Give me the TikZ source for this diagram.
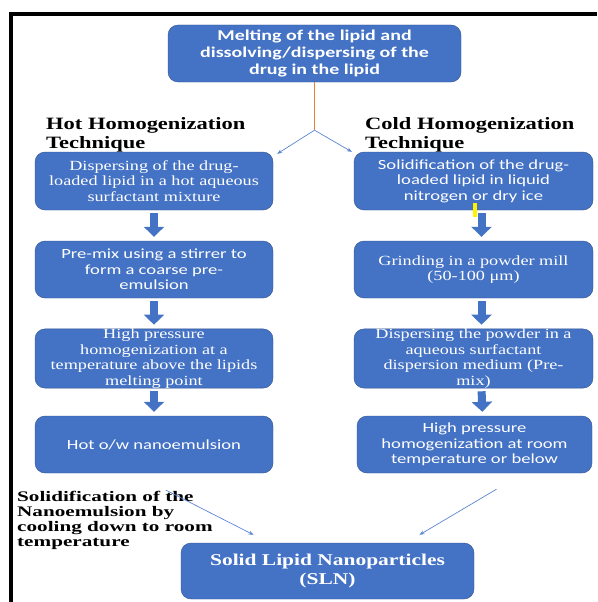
\documentclass[tikz,border=0pt]{standalone}
\usepackage{fontspec}
\usepackage{tikz}
\usetikzlibrary{arrows.meta,calc}
\newfontfamily\boxserif[FakeStretch=1.3]{Liberation Serif}
\newfontfamily\boxsans[FakeStretch=1.33]{Carlito}
\newfontfamily\notefont[FakeStretch=1.45]{Liberation Serif}
\definecolor{stepblue}{HTML}{4472C4}
\definecolor{stepedge}{HTML}{2F528F}
\definecolor{linkblue}{HTML}{5B86CF}
\definecolor{stemorange}{HTML}{ED7D31}

\begin{document}
\begin{tikzpicture}[x=1pt,y=-1pt,
  stepbox/.style={draw=stepedge,fill=stepblue,rounded corners=10pt,text=white,
    align=center,minimum width=238pt,minimum height=57pt,inner xsep=2pt,inner ysep=0pt},
  serifbox/.style={stepbox,font=\boxserif\fontsize{14}{15.5}\selectfont},
  sansbox/.style={stepbox,font=\boxsans\fontsize{14}{15.5}\selectfont},
  heading/.style={anchor=north west,align=left,inner sep=0pt,
    font=\boxserif\bfseries\fontsize{17.3}{19}\selectfont},
  note/.style={anchor=north west,align=left,inner sep=0pt,
    font=\notefont\bfseries\fontsize{14.6}{15}\selectfont},
  blk/.style={-{Triangle[width=20pt,length=10pt]},line width=8pt,draw=stepblue,
    shorten <=3pt,shorten >=4pt},
  link/.style={-{Stealth[length=5pt,width=4pt]},draw=linkblue,line width=0.7pt}
]
\useasboundingbox (0,0) rectangle (597,602);
% frame
\draw[line width=4pt] (9,14) -- (597,14);
\draw[line width=4pt] (11,12) -- (11,602);

\node[sansbox,font=\boxsans\bfseries\fontsize{15}{17}\selectfont,minimum width=293pt]
  (top) at (314.5,53.5) {Melting of the lipid and\\dissolving/dispersing of the\\drug in the lipid};

\node[heading] (hothead) at (46,117) {Hot Homogenization\\Technique};
\node[heading] (coldhead) at (365,117) {Cold Homogenization\\Technique};

% hot column
\node[serifbox,minimum height=58pt] (l1) at (154,181)
  {Dispersing of the drug-\\loaded lipid in a hot aqueous\\surfactant mixture};
\node[sansbox] (l2) at (154,269.5) {Pre-mix using a stirrer to\\form a coarse pre-\\emulsion};
\node[serifbox,minimum height=59pt] (l3) at (154,358.5)
  {High pressure\\homogenization at a\\temperature above the lipids\\melting point};
\node[sansbox] (l4) at (154,444.5) {Hot o/w nanoemulsion};

% cold column
\node[sansbox,minimum width=239pt,minimum height=58pt] (r1) at (473.5,181)
  {Solidification of the drug-\\loaded lipid in liquid\\nitrogen or dry ice};
\node[serifbox,minimum width=239pt] (r2) at (473.5,269.5) {Grinding in a powder mill\\(50-100 μm)};
\node[serifbox,minimum width=239pt,minimum height=59pt] (r3) at (473.5,358.5)
  {Dispersing the powder in a\\aqueous surfactant\\dispersion medium (Pre-\\mix)};
\node[sansbox,minimum width=235pt] (r4) at (474.5,444.5)
  {High pressure\\homogenization at room\\temperature or below};

\node[stepbox,minimum width=293pt,minimum height=56pt,
  font=\boxserif\bfseries\fontsize{16.5}{19}\selectfont] (sln) at (327.5,571)
  {Solid Lipid Nanoparticles\\(SLN)};

\node[note] (coolnote) at (17,491)
  {Solidification of the\\Nanoemulsion by\\cooling down to room\\temperature};

% connectors
\coordinate (split) at ($(top.south)+(0,48)$);
\draw[stemorange,line width=0.9pt] (top.south) -- (split);
\draw[link] (split) -- ($(l1.north east)+(4,2)$);
\draw[link] (split) -- ($(r1.north west)+(-2,0)$);

\foreach \a/\b in {l1/l2,l2/l3,l3/l4}
  \draw[blk] (\a.south) -- (\b.north);
\foreach \a/\b in {r1/r2,r2/r3,r3/r4}
  \draw[blk] ([xshift=8pt]\a.south) -- ([xshift=8pt]\b.north);

\draw[link] ($(l4.south)+(12,17)$) -- ($(sln.north)+(-74,-8)$);
\draw[link] ($(r4.south)+(22,16)$) -- ($(sln.north)+(92,-8)$);

% yellow mark
\fill[yellow] (473,203) rectangle (477,217);
\end{tikzpicture}
\end{document}
